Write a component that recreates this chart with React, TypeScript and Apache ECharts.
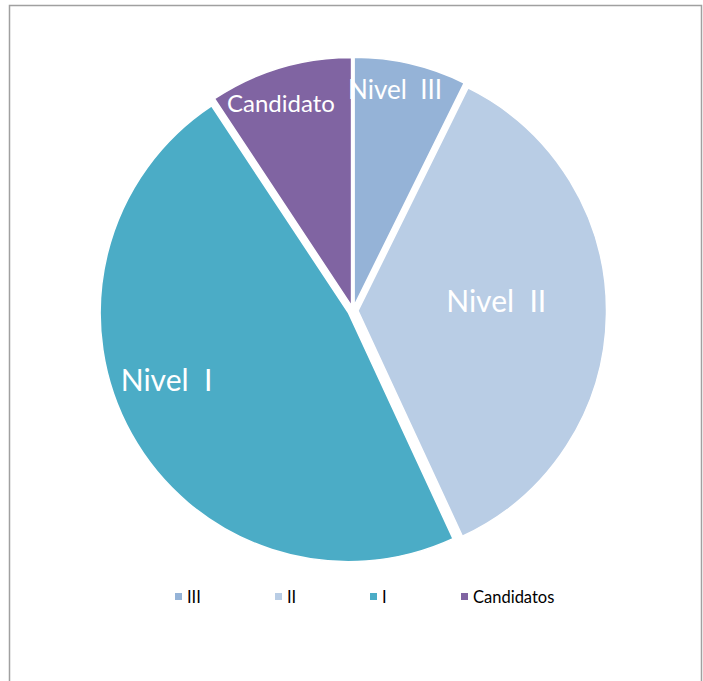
import React, { useEffect, useRef } from "react";
import * as echarts from "echarts";

const categories = ["III", "II", "I", "Candidatos"];
const sliceLabels = ["Nivel  III", "Nivel  II", "Nivel  I", "Candidato"];
const values = [7.3, 35.8, 47.6, 9.3];
const exploded = [true, true, true, true];

const colors = ["#95b3d7", "#b9cde5", "#4bacc6", "#8064a2"];
const labelFontSizes = [26, 30, 30, 24];
const labelShift = [
  [12, -93],
  [11, -12],
  [-71, 4],
  [-34, -82],
];
const legendLefts = [173, 273, 368, 459];

export default function App() {
  const ref = useRef<HTMLDivElement>(null);
  useEffect(() => {
    if (!ref.current) return;
    const chart = echarts.init(ref.current, undefined, { renderer: "svg" });
    const font = "Lato";
    chart.setOption({
      animation: false,
      backgroundColor: "#ffffff",
      graphic: [
        {
          type: "rect",
          shape: { x: 9.5, y: 5.5, width: 692, height: 700 },
          style: { fill: "none", stroke: "#a0a0a0", lineWidth: 1.5 },
          silent: true,
        },
      ],
      legend: categories.map((c, i) => ({
        top: 588,
        left: legendLefts[i],
        padding: 0,
        itemWidth: 9,
        itemHeight: 9,
        itemGap: 0,
        icon: "rect",
        selectedMode: false,
        data: [c],
        textStyle: { fontFamily: font, fontSize: 16.5, color: "#000000", padding: [0, 0, 0, -1] },
      })),
      series: [
        {
          type: "pie",
          center: [353, 310.7],
          radius: 248.5,
          startAngle: 90,
          clockwise: true,
          selectedMode: "multiple",
          selectedOffset: 5,
          emphasis: { disabled: true },
          itemStyle: { borderColor: "#ffffff", borderWidth: 1.5 },
          label: {
            show: true,
            position: "inside",
            color: "#ffffff",
            fontFamily: font,
            fontSize: 22,
            formatter: (p: any) => sliceLabels[p.dataIndex],
          },
          labelLine: { show: false },
          labelLayout: (p: any) => ({
            dx: labelShift[p.dataIndex][0],
            dy: labelShift[p.dataIndex][1],
          }),
          data: categories.map((c, i) => ({
            name: c,
            value: values[i],
            selected: exploded[i],
            itemStyle: { color: colors[i] },
            label: { fontSize: labelFontSizes[i] },
          })),
        },
      ],
    });
    return () => chart.dispose();
  }, []);
  return (
    <div
      ref={ref}
      style={{ position: "absolute", left: 0, top: 0, width: 703, height: 681 }}
    />
  );
}
